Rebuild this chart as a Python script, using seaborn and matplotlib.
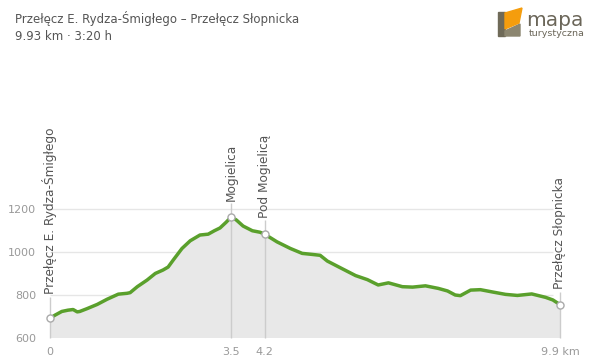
import numpy as np
import pandas as pd
import matplotlib
matplotlib.use("Agg")
import matplotlib.pyplot as plt
from matplotlib.patches import Polygon
import seaborn as sns

# elevation profile (km, m a.s.l.)
dist_km = [0.00, 0.10, 0.23, 0.35, 0.45, 0.53, 0.58, 0.72, 0.92, 1.11, 1.33, 1.50,
           1.56, 1.70, 1.89, 2.05, 2.20, 2.30, 2.40, 2.57, 2.73, 2.92, 3.08, 3.20,
           3.31, 3.43, 3.53, 3.63, 3.76, 3.94, 4.09, 4.18, 4.42, 4.68, 4.91, 5.11,
           5.26, 5.40, 5.65, 5.95, 6.18, 6.39, 6.59, 6.86, 7.06, 7.31, 7.56, 7.74,
           7.89, 7.99, 8.19, 8.38, 8.62, 8.87, 9.10, 9.38, 9.65, 9.79, 9.93]
elev_m = [690, 705, 722, 728, 731, 720, 722, 735, 755, 779, 803, 807,
          810, 838, 869, 900, 916, 930, 963, 1017, 1053, 1080, 1084, 1100,
          1113, 1140, 1165, 1150, 1122, 1100, 1093, 1084, 1048, 1017, 994, 989,
          985, 958, 927, 890, 871, 846, 856, 838, 836, 842, 830, 818,
          799, 796, 822, 824, 813, 802, 797, 804, 788, 776, 754]

# waypoints
wp_names = ["Przełęcz E. Rydza-Śmigłego", "Mogielica", "Pod Mogielicą", "Przełęcz Słopnicka"]
wp_km = [0.00, 3.53, 4.18, 9.93]
wp_elev = [690, 1165, 1084, 754]

x_ticks = [0, 3.53, 4.18, 9.93]
x_labels = ["0", "3.5", "4.2", "9.9 km"]
y_ticks = [600, 800, 1000, 1200]

title = "Przełęcz E. Rydza-Śmigłego – Przełęcz Słopnicka"
subtitle = "9.93 km · 3:20 h"

df = pd.DataFrame({"km": dist_km, "elev": elev_m})

sns.set_style("white")
plt.rcParams["font.family"] = ["DejaVu Sans"]

fig = plt.figure(figsize=(6, 3.62), dpi=100)
ax = fig.add_axes([50 / 600, 24.5 / 362, 510 / 600, 170.8 / 362])

ax.fill_between(df["km"], 600, df["elev"], color="#e8e8e8", lw=0, zorder=1)
ax.hlines(y_ticks, 0, 9.8, color="#e6e6e6", lw=1, zorder=0.5)

# waypoint lines + labels
line_above = [100, 64, 66, 60]
for name, xk, ye, up in zip(wp_names, wp_km, wp_elev, line_above):
    ax.vlines(xk, 600, ye + up, color="#cccccc", lw=1, zorder=1.5, clip_on=False)
    ax.text(xk, ye + up + 12, name, rotation=90, ha="center", va="bottom",
            fontsize=8.7, color="#555555", clip_on=False)

sns.lineplot(data=df, x="km", y="elev", color="#5aa02c", lw=2.5, ax=ax, zorder=3)
ax.scatter(wp_km, wp_elev, s=26, facecolor="white", edgecolor="#aaaaaa",
           linewidth=1, zorder=4, clip_on=False)

ax.set_xlim(0, 9.93)
ax.set_ylim(600, 1400)
ax.set_xticks(x_ticks)
ax.set_xticklabels(x_labels)
ax.set_yticks(y_ticks)
ax.tick_params(length=0, labelsize=8, colors="#999999", pad=7)
ax.tick_params(axis="y", pad=10)
ax.set_xlabel("")
ax.set_ylabel("")
for s in ax.spines.values():
    s.set_visible(False)
ax.patch.set_alpha(0)

fig.text(15 / 600, 1 - 19 / 362, title, fontsize=8.5, color="#555555", va="center")
fig.text(15 / 600, 1 - 37 / 362, subtitle, fontsize=8.5, color="#555555", va="center")

# logo
px = lambda x, y: (x / 600, 1 - y / 362)
fig.patches.append(Polygon([px(498, 12), px(505, 12), px(505, 36), px(498, 36)],
                           closed=True, color="#6f6a58", transform=fig.transFigure))
fig.patches.append(Polygon([px(505, 31), px(520, 24), px(520, 36), px(505, 36)],
                           closed=True, color="#8c8670", transform=fig.transFigure))
fig.patches.append(Polygon([px(505, 13), px(522, 8), px(519, 23), px(505, 29)],
                           closed=True, color="#f59d0d", transform=fig.transFigure))
fig.text(526 / 600, 1 - 20 / 362, "mapa", fontsize=14.5, color="#6b6659", va="center")
fig.text(529 / 600, 1 - 33 / 362, "turystyczna", fontsize=6.8, color="#6b6659", va="center")

fig.savefig("out.png", dpi=100)
